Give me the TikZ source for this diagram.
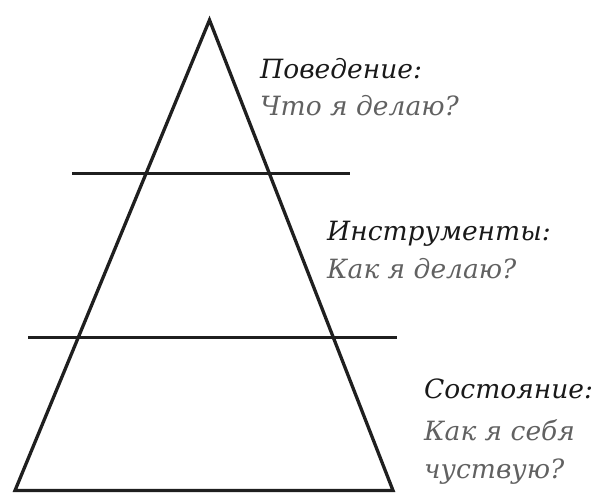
\documentclass[tikz,border=0pt]{standalone}
\usepackage{fontspec}
\setmainfont{DejaVu Serif}
\begin{document}
\begin{tikzpicture}[x=1pt,y=-1pt,
  edge/.style={line width=3.3pt, draw=black!88},
  head/.style={anchor=base west, inner sep=0pt, font=\fontsize{26.5}{30}\selectfont\itshape, text=black!90},
  sub/.style={anchor=base west, inner sep=0pt, font=\fontsize{26.5}{30}\selectfont\itshape, text=black!62}]
\useasboundingbox (0,0) rectangle (601,501);
\coordinate (apex) at (209.5,20);
\coordinate (bl) at (15,490.5);
\coordinate (br) at (393,490.5);
\draw[edge, line join=miter] (apex) -- (bl) -- (br) -- cycle;
\coordinate (l1a) at (72,173.7);
\coordinate (l1b) at (350,173.7);
\coordinate (l2a) at (28,337.7);
\coordinate (l2b) at (397,337.7);
\draw[edge] (l1a) -- (l1b);
\draw[edge] (l2a) -- (l2b);
\node[head] (h1) at (260,78) {Поведение:};
\node[sub] (s1) at (260,115.5) {Что я делаю?};
\node[head] (h2) at (327,240.5) {Инструменты:};
\node[sub] (s2) at (327,278) {Как я делаю?};
\node[head] (h3) at (424,398) {Состояние:};
\node[sub] (s3) at (424,440) {Как я себя};
\node[sub] (s4) at (424,478) {чуствую?};
\end{tikzpicture}
\end{document}
